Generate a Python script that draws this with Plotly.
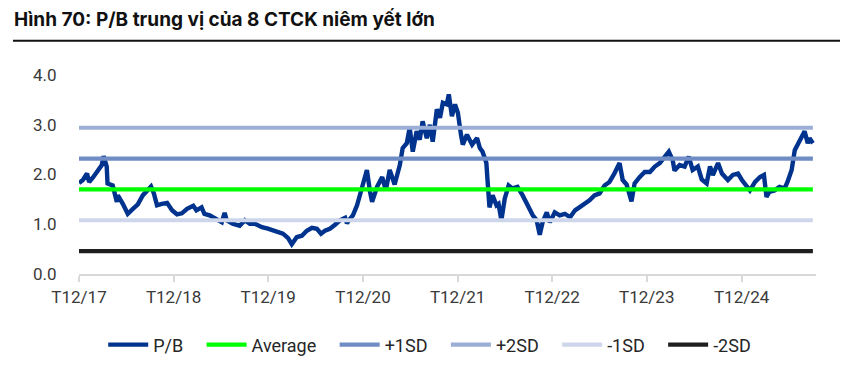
import plotly.graph_objects as go

# ---- data ----
dates = [
    "2017-12-01", "2017-12-16", "2018-01-01", "2018-01-09", "2018-01-24", "2018-02-13", "2018-02-27",
    "2018-03-06", "2018-03-18", "2018-03-21", "2018-04-10", "2018-04-26", "2018-04-30", "2018-05-19",
    "2018-06-07", "2018-06-27", "2018-07-16", "2018-08-04", "2018-08-24", "2018-09-05", "2018-09-16",
    "2018-09-28", "2018-10-17", "2018-11-06", "2018-11-25", "2018-12-14", "2019-01-02", "2019-01-22",
    "2019-02-15", "2019-02-27", "2019-03-19", "2019-03-30", "2019-04-19", "2019-05-16", "2019-06-05",
    "2019-06-16", "2019-06-24", "2019-07-17", "2019-08-13", "2019-09-02", "2019-09-21", "2019-10-10",
    "2019-11-07", "2019-11-30", "2019-12-19", "2020-01-08", "2020-01-27", "2020-02-16", "2020-03-01",
    "2020-03-20", "2020-04-09", "2020-04-28", "2020-05-18", "2020-06-06", "2020-06-22", "2020-07-07",
    "2020-07-26", "2020-08-15", "2020-09-03", "2020-09-23", "2020-09-30", "2020-10-12", "2020-10-23",
    "2020-11-08", "2020-11-20", "2020-12-01", "2020-12-16", "2020-12-28", "2021-01-05", "2021-01-24",
    "2021-02-13", "2021-02-27", "2021-03-14", "2021-04-02", "2021-04-22", "2021-05-03", "2021-05-19",
    "2021-05-30", "2021-06-11", "2021-06-26", "2021-07-08", "2021-07-19", "2021-08-04", "2021-08-16",
    "2021-08-27", "2021-09-12", "2021-09-24", "2021-10-05", "2021-10-20", "2021-10-28", "2021-11-09",
    "2021-11-21", "2021-12-02", "2021-12-14", "2021-12-21", "2022-01-06", "2022-01-26", "2022-02-14",
    "2022-02-25", "2022-03-07", "2022-03-22", "2022-03-26", "2022-04-03", "2022-04-15", "2022-04-30",
    "2022-05-08", "2022-05-19", "2022-06-01", "2022-06-16", "2022-07-01", "2022-07-20", "2022-08-09",
    "2022-08-28", "2022-09-17", "2022-10-02", "2022-10-14", "2022-10-25", "2022-11-10", "2022-11-22",
    "2022-12-11", "2022-12-30", "2023-01-19", "2023-02-08", "2023-02-27", "2023-03-16", "2023-04-05",
    "2023-04-24", "2023-05-13", "2023-06-02", "2023-06-21", "2023-07-10", "2023-07-29", "2023-08-18",
    "2023-08-30", "2023-09-14", "2023-10-03", "2023-10-15", "2023-11-04", "2023-11-23", "2023-12-13",
    "2024-01-01", "2024-01-20", "2024-02-09", "2024-02-24", "2024-03-10", "2024-03-17", "2024-04-06",
    "2024-04-25", "2024-05-11", "2024-05-26", "2024-06-15", "2024-06-30", "2024-07-19", "2024-08-01",
    "2024-08-12", "2024-09-01", "2024-09-16", "2024-09-28", "2024-10-09", "2024-10-28", "2024-11-17",
    "2024-12-02", "2024-12-21", "2025-01-02", "2025-01-22", "2025-02-10", "2025-02-25", "2025-03-07",
    "2025-03-18", "2025-04-07", "2025-04-26", "2025-05-16", "2025-05-27", "2025-06-12", "2025-06-24",
    "2025-07-05", "2025-07-20", "2025-08-01", "2025-08-13", "2025-08-20", "2025-09-02",
]
pb_values = [
    1.83, 1.89, 2.02, 1.85, 1.94, 2.08, 2.19,
    2.37, 2.16, 1.82, 1.78, 1.45, 1.58, 1.41,
    1.21, 1.31, 1.40, 1.58, 1.68, 1.76, 1.62,
    1.38, 1.41, 1.43, 1.28, 1.20, 1.22, 1.31,
    1.37, 1.28, 1.34, 1.21, 1.18, 1.11, 1.04,
    1.23, 1.08, 1.01, 0.97, 1.08, 1.01, 1.01,
    0.94, 0.91, 0.87, 0.84, 0.81, 0.72, 0.60,
    0.74, 0.77, 0.87, 0.93, 0.91, 0.81, 0.87,
    0.91, 0.99, 1.08, 1.13, 1.02, 1.11, 1.18,
    1.38, 1.62, 1.82, 2.09, 1.65, 1.45, 1.75,
    1.95, 1.68, 2.09, 1.80, 2.19, 2.53, 2.63,
    2.94, 2.46, 2.87, 2.70, 3.07, 2.73, 3.00,
    2.66, 3.31, 3.14, 3.44, 3.41, 3.61, 3.17,
    3.41, 3.24, 2.80, 2.60, 2.80, 2.60, 2.73,
    2.53, 2.46, 2.23, 1.92, 1.34, 1.58, 1.38,
    1.41, 1.08, 1.52, 1.78, 1.72, 1.75, 1.58,
    1.38, 1.18, 1.08, 0.79, 1.04, 1.24, 1.04,
    1.24, 1.18, 1.21, 1.14, 1.28, 1.34, 1.41,
    1.48, 1.58, 1.62, 1.78, 1.85, 2.02, 2.23,
    1.89, 1.80, 1.46, 1.82, 1.95, 2.05, 2.05,
    2.16, 2.23, 2.36, 2.46, 2.29, 2.08, 2.19,
    2.16, 2.36, 2.09, 2.16, 1.90, 1.82, 2.16,
    1.99, 2.23, 2.02, 1.95, 1.89, 1.99, 2.02,
    1.89, 1.78, 1.68, 1.85, 1.95, 1.99, 1.55,
    1.65, 1.68, 1.75, 1.72, 1.85, 2.09, 2.49,
    2.60, 2.77, 2.87, 2.63, 2.73, 2.63,
]

series_name = "P/B"
band_names = ["Average", "+1SD", "+2SD", "-1SD", "-2SD"]
band_values = [1.70, 2.32, 2.94, 1.08, 0.46]

tick_dates = ["2017-12-01", "2018-12-01", "2019-12-01", "2020-12-01",
              "2021-12-01", "2022-12-01", "2023-12-01", "2024-12-01"]
tick_labels = ["T12/17", "T12/18", "T12/19", "T12/20",
               "T12/21", "T12/22", "T12/23", "T12/24"]

y_ticks = [0, 1, 2, 3, 4]

title_text = "Hình 70: P/B trung vị của 8 CTCK niêm yết lớn"

# ---- styles ----
pb_color = "#00338d"
band_colors = ["#00ff00", "#6f8cc4", "#9bafd6", "#cdd6ea", "#1f1f1f"]
LINE_W = 4.4
PAD = "\u00a0\u00a0\u00a0"   # extra spacing after legend labels

fig = go.Figure()
fig.add_trace(go.Scatter(
    x=dates, y=pb_values, mode="lines", name=series_name + PAD,
    line=dict(color=pb_color, width=LINE_W),
))
for name, val, col in zip(band_names, band_values, band_colors):
    fig.add_trace(go.Scatter(
        x=[dates[0], dates[-1]], y=[val, val], mode="lines", name=name + PAD,
        line=dict(color=col, width=4.2),
    ))

axis_font = dict(family="Roboto, Arial, sans-serif", size=17, color="#3a3a3a")

fig.update_layout(
    width=853, height=376,
    margin=dict(l=71, r=45, t=67, b=110),
    paper_bgcolor="white", plot_bgcolor="white",
    showlegend=True,
    legend=dict(
        orientation="h", xref="container", yref="container",
        x=0.502, xanchor="center", y=0.104, yanchor="middle",
        font=dict(family="Roboto, Arial, sans-serif", size=18, color="#262626"),
        itemwidth=40, tracegroupgap=0,
    ),
    title=dict(
        text="<b>" + title_text + "</b>",
        xref="container", yref="container", x=0.007, xanchor="left",
        y=0.971, yanchor="middle",
        font=dict(family="Inter, Arial, sans-serif", size=19, color="#111111"),
    ),
    shapes=[dict(
        type="line", xref="paper", yref="paper", layer="above",
        x0=-0.0896, x1=1.0326, y0=1.1724, y1=1.1724,
        line=dict(color="#111111", width=2),
    )],
)

fig.update_xaxes(
    type="date", range=["2017-12-01", "2025-09-14"],
    tickmode="array", tickvals=tick_dates, ticktext=tick_labels,
    showgrid=False, zeroline=False,
    showline=True, linecolor="#d9d9d9", linewidth=1.5,
    ticks="outside", ticklen=6, tickcolor="#d9d9d9", tickwidth=1.5,
    tickfont=axis_font, ticklabelstandoff=1,
)
fig.update_yaxes(
    range=[0, 4], tickmode="array", tickvals=y_ticks, tickformat=".1f",
    showgrid=False, zeroline=False, showline=False,
    ticks="outside", ticklen=18, tickcolor="rgba(0,0,0,0)",
    tickfont=axis_font,
)

fig.write_html("out.html")
